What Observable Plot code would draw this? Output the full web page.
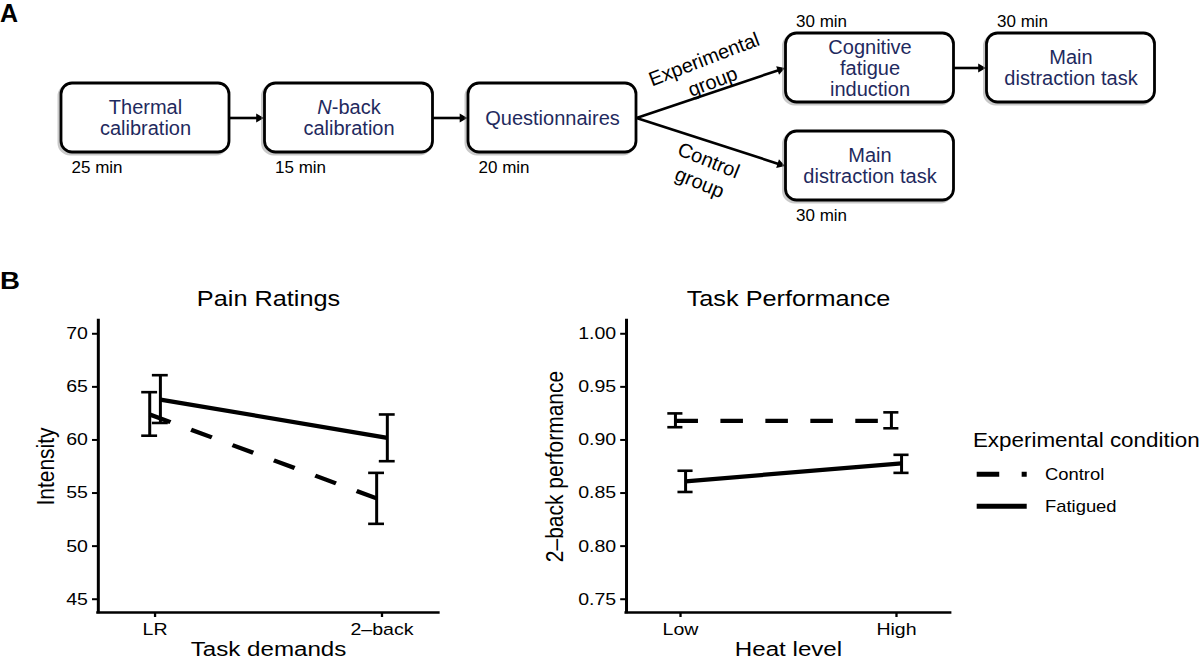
<!DOCTYPE html>
<html>
<head>
<meta charset="utf-8">
<script src="https://cdn.jsdelivr.net/npm/d3@7"></script>
<script src="https://cdn.jsdelivr.net/npm/@observablehq/plot@0.6"></script>
<style>
  body { margin: 0; background: #fff; }
  #root { position: relative; width: 1200px; height: 660px; overflow: hidden; background: #fff;
          font-family: "Liberation Sans", Arial, Helvetica, sans-serif; color: #000; }
  .abs { position: absolute; }
  .plabel { position: absolute; font-weight: bold; line-height: 1; }
  #panelB { position: absolute; left: 0; top: 270px; width: 1044px; height: 390px;
            transform: scaleX(1.15); transform-origin: 0 0; }
</style>
</head>
<body>
<div id="root">
  <div id="flow" class="abs" style="left:0;top:0"></div>
  <div class="plabel" style="left:0;top:1px;font-size:25px;">A</div>
  <div id="panelB">
    <div class="plabel" style="left:0;top:-1px;font-size:24px;">B</div>
    <div id="pain" class="abs" style="left:0;top:0"></div>
    <div id="perf" class="abs" style="left:450px;top:0"></div>
    <div id="legend" class="abs" style="left:840px;top:0"></div>
  </div>
</div>
<script>
// ---------------- Panel A content ----------------
const steps = ["Thermal\ncalibration", "N-back\ncalibration", "Questionnaires",
               "Cognitive\nfatigue\ninduction", "Main\ndistraction task", "Main\ndistraction task"];
const stepDurations = ["25 min", "15 min", "20 min", "30 min", "30 min", "30 min"];
const flowEdges = [[0, 1], [1, 2], [2, 3], [2, 5], [3, 4]];
const groupLabels = ["Experimental\ngroup", "Control\ngroup"];

// ---------------- Panel B data ----------------
const conditions = ["Control", "Fatigued"];
const taskLevels = ["LR", "2–back"];
const painMean  = [[62.4, 54.5], [63.8, 60.2]];
const painLower = [[60.4, 52.1], [61.6, 58.0]];
const painUpper = [[64.5, 56.9], [66.1, 62.4]];
const heatLevels = ["Low", "High"];
const perfMean  = [[0.918, 0.918], [0.861, 0.878]];
const perfLower = [[0.912, 0.911], [0.851, 0.869]];
const perfUpper = [[0.925, 0.926], [0.871, 0.886]];
const painTicks = [45, 50, 55, 60, 65, 70];
const perfTicks = [0.75, 0.80, 0.85, 0.90, 0.95, 1.00];

// ---------------- layout / style (kept apart from data) ----------------
const FONT = '"Liberation Sans", Arial, Helvetica, sans-serif';
const NAVY = "#1f2a5e";
const boxCenters = [[145, 117.5], [348.5, 117.5], [552, 117.5], [869.5, 67.5], [1070.5, 67.5], [869.5, 165.5]];
const BOX_W = 168, BOX_H = 69;
const durationSide = ["below", "below", "below", "above", "above", "below"];
const groupAnchors = [{x: 707.5, y: 69, rotate: -21}, {x: 704, y: 170, rotate: 22}];
const dodge = {Control: -0.0235, Fatigued: 0.0235};
const dashes = {Control: "19.6,19.5", Fatigued: null};
const CAP = 0.035;

// ---------------- Panel A: flow diagram ----------------
const boxes = steps.map((label, i) => ({
  label, dur: stepDurations[i], side: durationSide[i],
  cx: boxCenters[i][0], cy: boxCenters[i][1],
  x1: boxCenters[i][0] - BOX_W / 2, x2: boxCenters[i][0] + BOX_W / 2,
  y1: boxCenters[i][1] - BOX_H / 2, y2: boxCenters[i][1] + BOX_H / 2
}));
const TIP = 5.2;
const arrows = flowEdges.map(([a, b]) => {
  const s = boxes[a], t = boxes[b];
  const x1 = s.x2, y1 = s.cy, tx = t.x1 - 1, ty = t.cy;
  const len = Math.hypot(tx - x1, ty - y1);
  const ux = (tx - x1) / len, uy = (ty - y1) / len;
  return {x1, y1, x2: tx - TIP * ux, y2: ty - TIP * uy,
          angle: Math.atan2(uy, ux) * 180 / Math.PI + 90};
});
const groups = groupLabels.map((text, i) => ({text, ...groupAnchors[i]}));

const flow = Plot.plot({
  width: 1200, height: 250, margin: 0,
  x: {domain: [0, 1200], range: [0, 1200], axis: null},
  y: {domain: [0, 250], range: [0, 250], axis: null},
  style: {fontFamily: FONT, background: "transparent", overflow: "visible"},
  marks: [
    Plot.link(arrows, {x1: "x1", y1: "y1", x2: "x2", y2: "y2", stroke: "black", strokeWidth: 2.6}),
    Plot.dot(arrows, {x: "x2", y: "y2", symbol: "triangle2", r: 4.3, fill: "black", stroke: "none", rotate: "angle"}),
    Plot.rect(boxes, {x1: "x1", x2: "x2", y1: "y1", y2: "y2", fill: "none", stroke: "#888",
                      strokeOpacity: 0.45, strokeWidth: 3, rx: 11, dx: -2, dy: 2}),
    Plot.rect(boxes, {x1: "x1", x2: "x2", y1: "y1", y2: "y2", fill: "white", stroke: "black",
                      strokeWidth: 2.8, rx: 11}),
    Plot.text(boxes, {x: "cx", y: "cy", text: "label", fontSize: 20, lineHeight: 1.05, fill: NAVY}),
    Plot.text(boxes, {x: d => d.x1 + 10, y: d => d.side === "below" ? d.y2 + 20.5 : d.y1 - 6.3,
                      text: "dur", textAnchor: "start", lineAnchor: "bottom", fontSize: 17, fill: "black"}),
    Plot.text(groups, {x: "x", y: "y", text: "text", rotate: "rotate", fontSize: 20, lineHeight: 1.2, fill: "black"})
  ]
});
// italic N in "N-back"
flow.querySelectorAll("tspan, text").forEach(t => {
  if (t.childNodes.length === 1 && t.textContent === "N-back") {
    t.textContent = "";
    const it = document.createElementNS("http://www.w3.org/2000/svg", "tspan");
    it.setAttribute("font-style", "italic");
    it.textContent = "N";
    t.appendChild(it);
    t.appendChild(document.createTextNode("-back"));
  }
});
document.getElementById("flow").appendChild(flow);

// ---------------- Panel B: charts ----------------
function buildRows(levels, means, lows, highs) {
  const rows = [];
  conditions.forEach((c, ci) => levels.forEach((lv, li) => rows.push({
    cond: c, level: lv, x: li + 1 + dodge[c], mean: means[ci][li], lo: lows[ci][li], hi: highs[ci][li]
  })));
  return rows;
}

function chart({levels, rows, yDomain, yTicks, tickFormat, title, xLabel, yLabel, width, marginLeft, plotWidth, yLabelDx}) {
  const xd = [0.75, 2.25];
  const lineMarks = conditions.map(c => Plot.line(rows.filter(d => d.cond === c), {
    x: "x", y: "mean", stroke: "black", strokeWidth: 4.2,
    strokeDasharray: dashes[c] || undefined, strokeLinecap: "butt"
  }));
  return Plot.plot({
    width, height: 390, marginTop: 50, marginBottom: 48, marginLeft,
    marginRight: width - marginLeft - plotWidth,
    x: {domain: xd}, y: {domain: yDomain},
    style: {fontFamily: FONT, fontSize: "17px", color: "black", background: "transparent", overflow: "visible"},
    marks: [
      Plot.axisX({ticks: [1, 2], tickFormat: v => levels[v - 1], tickSize: 5, tickPadding: 5.5,
                  strokeWidth: 2, label: null, fontSize: 17, fill: "black"}),
      Plot.axisY({ticks: yTicks, tickFormat, tickSize: 5, tickPadding: 4, strokeWidth: 2,
                  label: null, fontSize: 17, fill: "black"}),
      Plot.ruleX([xd[0]], {stroke: "black", strokeWidth: 2.6, strokeLinecap: "square"}),
      Plot.ruleY([yDomain[0]], {stroke: "black", strokeWidth: 2.6, strokeLinecap: "square"}),
      ...lineMarks,
      Plot.ruleX(rows, {x: "x", y1: "lo", y2: "hi", stroke: "black", strokeWidth: 2.6}),
      Plot.ruleY(rows, {y: "lo", x1: d => d.x - CAP, x2: d => d.x + CAP, stroke: "black", strokeWidth: 2.6}),
      Plot.ruleY(rows, {y: "hi", x1: d => d.x - CAP, x2: d => d.x + CAP, stroke: "black", strokeWidth: 2.6}),
      Plot.text([title], {frameAnchor: "top", lineAnchor: "bottom", dy: -15, fontSize: 22, fill: "black"}),
      Plot.text([xLabel], {frameAnchor: "bottom", lineAnchor: "bottom", dy: 43.5, fontSize: 21, fill: "black"}),
      Plot.text([yLabel], {frameAnchor: "left", textAnchor: "middle", rotate: -90, lineAnchor: "bottom",
                           dx: yLabelDx, fontSize: 21, fill: "black"})
    ]
  });
}

const pain = chart({
  levels: taskLevels, rows: buildRows(taskLevels, painMean, painLower, painUpper),
  yDomain: [43.75, 71.25], yTicks: painTicks, tickFormat: d3.format("d"),
  title: "Pain Ratings", xLabel: "Task demands", yLabel: "Intensity",
  width: 400, marginLeft: 85, plotWidth: 296, yLabelDx: -38.6
});
document.getElementById("pain").appendChild(pain);

const perf = chart({
  levels: heatLevels, rows: buildRows(heatLevels, perfMean, perfLower, perfUpper),
  yDomain: [0.7375, 1.0125], yTicks: perfTicks, tickFormat: d3.format(".2f"),
  title: "Task Performance", xLabel: "Heat level", yLabel: "2–back performance",
  width: 386, marginLeft: 94.3, plotWidth: 281.7, yLabelDx: -55
});
document.getElementById("perf").appendChild(perf);

// ---------------- Legend ----------------
const lg = d3.create("svg").attr("width", 205).attr("height", 390)
  .style("font-family", FONT).style("overflow", "visible");
lg.append("text").attr("x", 6).attr("y", 176.7).attr("font-size", 19.5).attr("fill", "black")
  .text("Experimental condition");
conditions.forEach((c, i) => {
  const ky = 204.3 + i * 32;
  lg.append("line").attr("x1", 9.3).attr("x2", 52.8).attr("y1", ky).attr("y2", ky)
    .attr("stroke", "black").attr("stroke-width", 5)
    .attr("stroke-dasharray", dashes[c] || null);
  lg.append("text").attr("x", 68.7).attr("y", ky + 6).attr("font-size", 16).attr("fill", "black").text(c);
});
document.getElementById("legend").appendChild(lg.node());
</script>
</body>
</html>
